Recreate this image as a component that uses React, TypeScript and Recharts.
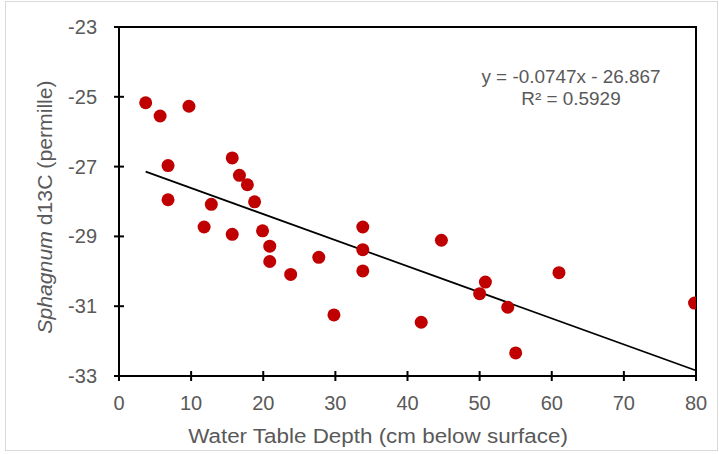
import {
  ScatterChart,
  Scatter,
  XAxis,
  YAxis,
  ReferenceArea,
  ReferenceLine,
} from "recharts";

// water table depth (cm below surface) vs Sphagnum d13C (permille)
const depth = [
  3.7, 5.7, 9.7, 6.8, 6.8, 15.7, 16.7, 17.8, 18.8, 12.8, 11.8, 15.7, 19.9, 20.9,
  20.9, 23.8, 27.7, 33.8, 33.8, 33.8, 29.8, 44.7, 41.9, 50.8, 50.0, 53.9, 55.0,
  61.0, 79.8,
];
const d13c = [
  -25.17, -25.55, -25.27, -26.97, -27.95, -26.75, -27.25, -27.52, -28.01, -28.08,
  -28.73, -28.94, -28.84, -29.28, -29.72, -30.09, -29.6, -28.73, -29.38, -29.99,
  -31.25, -29.11, -31.46, -30.31, -30.64, -31.03, -32.34, -30.04, -30.91,
];
const xTicks = [0, 10, 20, 30, 40, 50, 60, 70, 80];
const yTicks = [-23, -25, -27, -29, -31, -33];

// linear fit shown on the chart
const slope = -0.0747;
const intercept = -26.867;
const fitFrom = 3.7;
const fitTo = 80;

const points = depth.map((x, i) => ({ x, y: d13c[i] }));

const FONT = '"Liberation Sans", Arial, sans-serif';
const GREY = "#595959";

function YTick({ x, y, payload }: any) {
  return (
    <g>
      <line x1={x - 5} x2={x + 5} y1={y} y2={y} stroke="#000" strokeWidth={2} />
      <text
        x={x - 22}
        y={y}
        textAnchor="end"
        dominantBaseline="central"
        fill={GREY}
        fontSize={20}
        fontFamily={FONT}
      >
        {payload.value}
      </text>
    </g>
  );
}

function XTick({ x, y, payload }: any) {
  return (
    <g>
      <line x1={x} x2={x} y1={y - 5} y2={y + 5} stroke="#000" strokeWidth={2} />
      <text
        x={x}
        y={y + 27}
        textAnchor="middle"
        dominantBaseline="central"
        fill={GREY}
        fontSize={20}
        fontFamily={FONT}
      >
        {payload.value}
      </text>
    </g>
  );
}

const Dot = (props: any) => (
  <circle cx={props.cx} cy={props.cy} r={6.5} fill="#C00000" />
);

export default function App() {
  return (
    <div
      style={{
        position: "absolute",
        left: 0,
        top: 0,
        width: 719,
        height: 454,
        background: "#fff",
        fontFamily: FONT,
      }}
    >
      <div
        style={{
          position: "absolute",
          left: 5,
          top: 1,
          width: 711,
          height: 448,
          border: "1px solid #d9d9d9",
        }}
      />
      <ScatterChart
        width={719}
        height={454}
        margin={{ top: 27, right: 23, bottom: 28, left: 59 }}
      >
        <XAxis
          type="number"
          dataKey="x"
          domain={[0, 80]}
          ticks={xTicks}
          height={50}
          tickSize={0}
          tickMargin={0}
          tickLine={false}
          tick={<XTick />}
          axisLine={{ stroke: "#000", strokeWidth: 2 }}
          allowDataOverflow
        />
        <YAxis
          type="number"
          dataKey="y"
          domain={[-33, -23]}
          ticks={yTicks}
          width={60}
          tickSize={0}
          tickMargin={0}
          tickLine={false}
          tick={<YTick />}
          axisLine={{ stroke: "#000", strokeWidth: 2 }}
          allowDataOverflow
        />
        <ReferenceArea
          x1={0}
          x2={80}
          y1={-33}
          y2={-23}
          fill="none"
          stroke="#000"
          strokeWidth={2}
          fillOpacity={0}
        />
        <Scatter data={points} shape={Dot} isAnimationActive={false} />
        <ReferenceLine
          segment={[
            { x: fitFrom, y: slope * fitFrom + intercept },
            { x: fitTo, y: slope * fitTo + intercept },
          ]}
          stroke="#000"
          strokeWidth={1.75}
        />
      </ScatterChart>

      {/* equation box */}
      <div
        style={{
          position: "absolute",
          left: 571,
          top: 66,
          transform: "translateX(-50%) scaleX(1.05)",
          textAlign: "center",
          color: GREY,
          fontSize: 18,
          lineHeight: "22px",
          whiteSpace: "nowrap",
        }}
      >
        <div>y = -0.0747x - 26.867</div>
        <div>R² = 0.5929</div>
      </div>

      {/* axis titles */}
      <div
        style={{
          position: "absolute",
          left: 45,
          top: 207,
          transform: "translate(-50%, -50%) rotate(-90deg) scaleX(1.06)",
          color: GREY,
          fontSize: 20,
          whiteSpace: "nowrap",
        }}
      >
        <i>Sphagnum</i> d13C (permille)
      </div>
      <div
        style={{
          position: "absolute",
          left: 378,
          top: 436,
          transform: "translate(-50%, -50%) scaleX(1.12)",
          color: GREY,
          fontSize: 20,
          whiteSpace: "nowrap",
        }}
      >
        Water Table Depth (cm below surface)
      </div>
    </div>
  );
}
